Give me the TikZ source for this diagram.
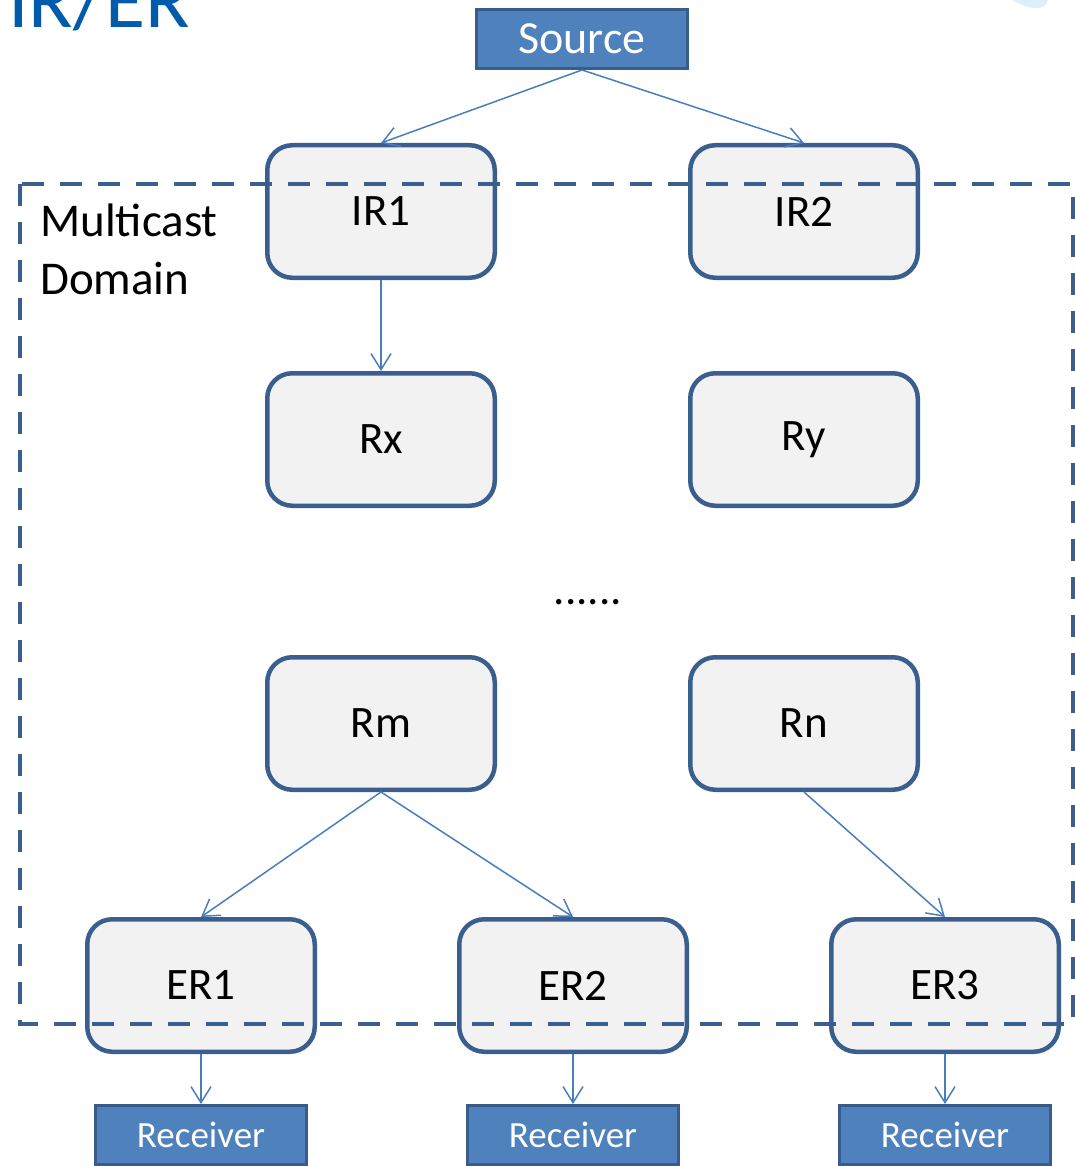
\documentclass[tikz,border=0pt]{standalone}
\usepackage{fontspec}
\setmainfont{Carlito}
\usetikzlibrary{arrows.meta}
\definecolor{boxline}{HTML}{3A5F8F}
\definecolor{boxfill}{HTML}{F2F2F2}
\definecolor{hostfill}{HTML}{4F81BD}
\definecolor{hostline}{HTML}{385D8A}
\definecolor{linkcol}{HTML}{4A7EBB}
\definecolor{titlecol}{HTML}{005BAC}
\definecolor{palecyan}{HTML}{DDF0FA}
\begin{document}
\begin{tikzpicture}[x=1pt, y=-1pt,
    router/.style={draw=boxline, line width=4.5pt, fill=boxfill, rounded corners=25pt,
      minimum width=227.5pt, minimum height=132.5pt, inner sep=0pt,
      font=\fontsize{45}{50}\selectfont},
    host/.style={draw=hostline, line width=3pt, fill=hostfill, text=white,
      minimum width=211pt, minimum height=59pt, inner sep=0pt},
    link/.style={draw=linkcol, line width=1.5pt, -{Straight Barb[length=16pt,width=20pt]}},
    mdomain/.style={draw=boxline, line width=4pt, dash pattern=on 22pt off 16pt}]
  \useasboundingbox (0,0) rectangle (1075,1166);

  % Title (cut off at the top)
  \node[anchor=base west, inner sep=0pt, text=titlecol, font=\fontsize{82}{90}\selectfont]
    (title) at (8,28) {IR/ER};
  \fill[palecyan] (1012,0) .. controls (1030,10) and (1045,12) .. (1048,0) -- cycle;

  % Source
  \node[host, font=\fontsize{46}{50}\selectfont] (src) at (582,39) {Source};

  % Ingress routers
  \node[router] (ir1) at (381,211.5) {IR1};
  \node[router] (ir2) at (804,211.5) {IR2};

  % Core routers
  \node[router] (rx) at (381,439.5) {Rx};
  \node[router] (ry) at (804,439.5) {Ry};
  \node[font=\fontsize{45}{50}\selectfont] (dots) at (588,602) {......};
  \node[router] (rm) at (381,723.5) {Rm};
  \node[router] (rn) at (804,723.5) {Rn};

  % Egress routers
  \node[router] (er1) at (201,985.5) {ER1};
  \node[router] (er2) at (573,985.5) {ER2};
  \node[router] (er3) at (945,985.5) {ER3};

  % Receivers
  \node[host, font=\fontsize{37}{40}\selectfont] (rcv1) at (201,1135) {Receiver};
  \node[host, font=\fontsize{37}{40}\selectfont] (rcv2) at (573,1135) {Receiver};
  \node[host, font=\fontsize{37}{40}\selectfont] (rcv3) at (945,1135) {Receiver};

  % Links
  \draw[link] (src.south) -- (ir1.north);
  \draw[link] (src.south) -- (ir2.north);
  \draw[link] (ir1.south) -- (rx.north);
  \draw[link] (rm.south) -- (er1.north);
  \draw[link] (rm.south) -- (er2.north);
  \draw[link] (rn.south) -- (er3.north);
  \draw[link] (er1.south) -- (rcv1.north);
  \draw[link] (er2.south) -- (rcv2.north);
  \draw[link] (er3.south) -- (rcv3.north);

  % Multicast domain
  \draw[mdomain] (20,184) rectangle (1073,1024);
  \node[anchor=north west, align=left, inner sep=0pt, font=\fontsize{47}{58}\selectfont]
    (dlabel) at (40,204) {Multicast\\Domain};
\end{tikzpicture}
\end{document}
